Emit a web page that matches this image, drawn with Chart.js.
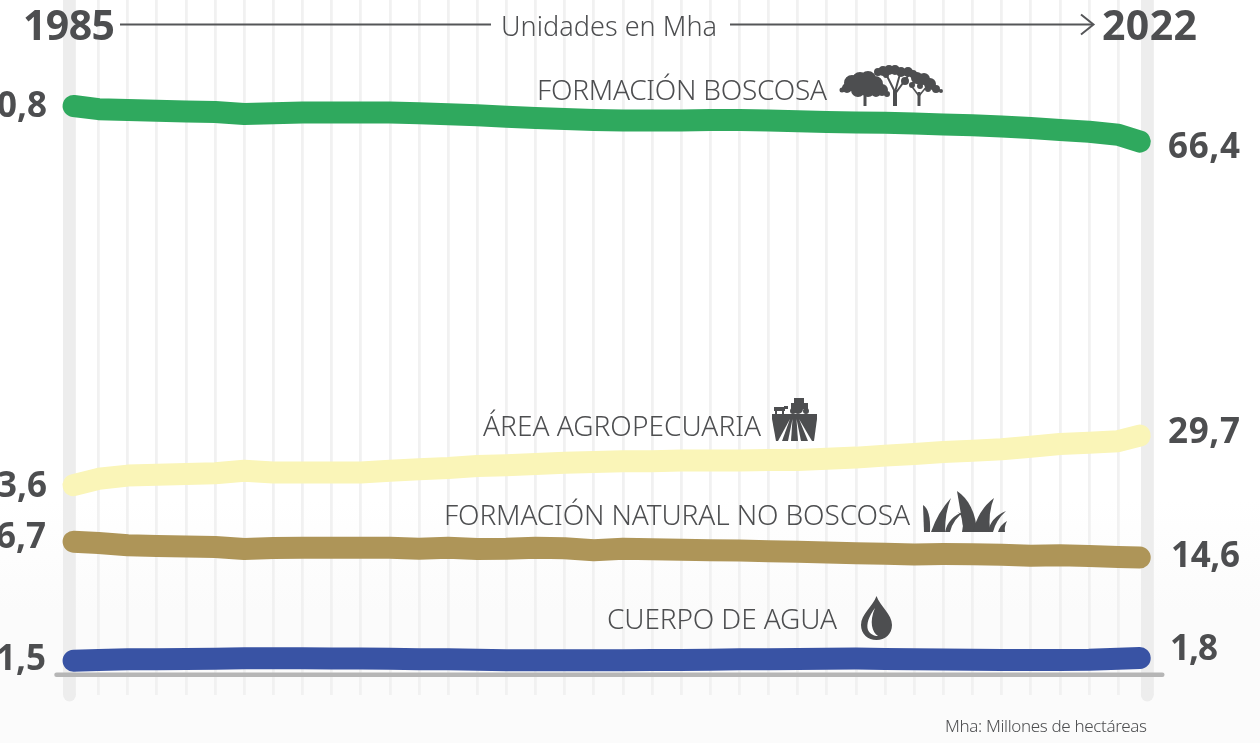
<!DOCTYPE html>
<html>
<head>
<meta charset="utf-8">
<style>
	html, body { margin: 0; padding: 0; }
	body { width: 1260px; height: 743px; overflow: hidden; background: linear-gradient(#fff 0, #fff 500px, #fbfbfb 610px, #fbfbfb 100%); }
	canvas { display: block; }
</style>
<script src="https://cdn.jsdelivr.net/npm/chart.js@4/dist/chart.umd.js"></script>
</head>
<body>
<canvas id="chart" width="1260" height="743"></canvas>
<script>
const years = [1985, 1986, 1987, 1988, 1989, 1990, 1991, 1992, 1993, 1994, 1995, 1996, 1997, 1998, 1999, 2000, 2001, 2002, 2003, 2004, 2005, 2006, 2007, 2008, 2009, 2010, 2011, 2012, 2013, 2014, 2015, 2016, 2017, 2018, 2019, 2020, 2021, 2022]

const boscosa = [70.8, 70.4, 70.3, 70.2, 70.1, 70.05, 69.8, 69.9, 70, 70, 70, 70, 69.9, 69.78, 69.64, 69.45, 69.3, 69.18, 69.05, 69, 69, 69, 69.05, 69.05, 69, 68.9, 68.8, 68.75, 68.7, 68.6, 68.5, 68.4, 68.25, 68.05, 67.8, 67.58, 67.2, 66.35]
const agropecuaria = [23.4, 24.2, 24.6, 24.7, 24.8, 24.9, 25.2, 25, 25, 25, 25, 25.2, 25.4, 25.55, 25.8, 25.9, 26.05, 26.2, 26.3, 26.4, 26.4, 26.5, 26.5, 26.5, 26.55, 26.55, 26.7, 26.85, 27.1, 27.3, 27.55, 27.7, 27.9, 28.2, 28.55, 28.7, 28.9, 29.6]
const natural = [16.34, 16.18, 15.89, 15.8, 15.74, 15.68, 15.43, 15.55, 15.58, 15.58, 15.58, 15.58, 15.46, 15.58, 15.43, 15.46, 15.59, 15.53, 15.28, 15.46, 15.39, 15.33, 15.26, 15.24, 15.14, 15.09, 14.99, 14.89, 14.84, 14.74, 14.8, 14.78, 14.7, 14.58, 14.64, 14.55, 14.43, 14.36]
const agua = [1.46, 1.55, 1.64, 1.65, 1.68, 1.71, 1.76, 1.76, 1.76, 1.74, 1.74, 1.71, 1.65, 1.64, 1.58, 1.52, 1.52, 1.52, 1.52, 1.52, 1.55, 1.55, 1.58, 1.63, 1.65, 1.68, 1.7, 1.73, 1.68, 1.65, 1.61, 1.59, 1.56, 1.55, 1.55, 1.58, 1.71, 1.8]

const startLabels = ['70,8', '23,6', '16,7', '1,5']
const endLabels = ['66,4', '29,7', '14,6', '1,8']
const seriesNames = ['FORMACIÓN BOSCOSA', 'ÁREA AGROPECUARIA', 'FORMACIÓN NATURAL NO BOSCOSA', 'CUERPO DE AGUA']
const seriesData = [boscosa, agropecuaria, natural, agua]
const seriesColors = ['#2fa95e', '#faf5b8', '#ae9558', '#3953a4']

const ink = '#4d4e50'
const bold = '"Noto Sans", sans-serif'
const light = '"Noto Sans", sans-serif'

// the strokes stop just inside the two end columns
const lineYears = years.map((year) => (year === 1985 ? 1985.14 : year === 2022 ? 2021.74 : year))

// text fitted between two x positions, the original font is not installed
function fitText(ctx, text, left, right, baseline, font) {
	ctx.save()
	ctx.font = font
	ctx.textAlign = 'left'
	ctx.textBaseline = 'alphabetic'
	ctx.letterSpacing = '0px'
	const width = ctx.measureText(text).width
	ctx.letterSpacing = ((right - left - width) / (text.length - 1)) + 'px'
	ctx.fillStyle = ink
	ctx.fillText(text, left, baseline)
	ctx.restore()
}

function blobs(ctx, list) {
	ctx.beginPath()
	list.forEach(([x, y, r]) => {
		ctx.moveTo(x + r, y)
		ctx.arc(x, y, r, 0, Math.PI * 2)
	})
	ctx.fill()
}

function stroke(ctx, width, points) {
	ctx.lineWidth = width
	ctx.beginPath()
	points.forEach(([x, y], i) => (i ? ctx.lineTo(x, y) : ctx.moveTo(x, y)))
	ctx.stroke()
}

function polygon(ctx, points) {
	ctx.beginPath()
	points.forEach(([x, y], i) => (i ? ctx.lineTo(x, y) : ctx.moveTo(x, y)))
	ctx.closePath()
	ctx.fill()
}

function drawTrees(ctx) {
	blobs(ctx, [[842, 90, 2.5], [847, 88, 5], [852, 83, 8], [860, 80, 8], [868, 79, 8], [875, 84, 8], [882, 90, 6], [887, 94, 3], [858, 90, 7], [868, 90, 7], [876, 92, 5],
		[878, 72, 4], [883, 71, 5], [889, 70, 5], [895, 70, 5], [901, 72, 5], [908, 72, 5], [886, 75, 3],
		[913, 74, 4], [917, 78, 6], [924, 79, 6], [930, 84, 6], [936, 89, 4], [941, 91, 2], [905, 81, 4], [912, 85, 3], [920, 86, 3], [928, 89, 3]])
	stroke(ctx, 3, [[865, 92], [865, 106]])
	stroke(ctx, 4, [[895, 90], [895, 106]])
	stroke(ctx, 2, [[895, 92], [886, 74]])
	stroke(ctx, 2, [[895, 92], [900, 74]])
	stroke(ctx, 2, [[895, 94], [908, 76]])
	stroke(ctx, 3, [[919, 92], [919, 106]])
	stroke(ctx, 1.5, [[919, 96], [910, 84]])
	stroke(ctx, 1.5, [[919, 96], [927, 86]])
}

function drawField(ctx, gap) {
	polygon(ctx, [[772, 414], [817, 414], [817, 419], [814, 441], [776, 441], [772, 419]])
	// furrows opening toward the viewer
	ctx.fillStyle = gap
	;[[790, 419, 778, 441, 782, 441], [792.5, 419, 788, 441, 791, 441], [796.5, 419, 798, 441, 801, 441], [799, 419, 808, 441, 812, 441]].forEach((f) => {
		polygon(ctx, [[f[0], f[1]], [f[2], f[3]], [f[4], f[5]]])
	})
	ctx.fillStyle = ink
	ctx.fillRect(774, 407, 11, 4)
	ctx.fillRect(775, 410, 2, 4)
	ctx.fillRect(782, 410, 2, 4)
	ctx.fillRect(784, 406, 4, 3)
	ctx.fillRect(791, 403, 17, 6)
	ctx.fillRect(794, 398, 10, 6)
	blobs(ctx, [[793, 411, 3], [798, 409, 5], [806, 411, 3]])
}

function drawGrass(ctx) {
	const blades = [[923, 505, 931, 510, 930, 532, 924, 532], [931, 532, 938, 512, 951, 498, 945, 512, 945, 532],
		[945, 532, 948, 517, 965, 511, 953, 519, 950, 532], [957, 491, 975, 503, 977, 532, 964, 532], [962, 532, 965, 518, 958, 512, 972, 520, 975, 532],
		[973, 532, 978, 510, 994, 498, 988, 512, 990, 532], [988, 532, 990, 518, 1006, 511, 996, 520, 993, 532], [998, 532, 1000, 525, 1007, 521, 1004, 527, 1005, 532]]
	blades.forEach((b) => {
		ctx.beginPath()
		ctx.moveTo(b[0], b[1])
		ctx.quadraticCurveTo(b[2], b[3], b[4], b[5])
		if (b.length === 8) {
			ctx.lineTo(b[6], b[7])
		} else {
			ctx.quadraticCurveTo(b[6], b[7], b[8], b[9])
		}
		ctx.closePath()
		ctx.fill()
	})
}

function drawDrop(ctx) {
	ctx.beginPath()
	ctx.moveTo(876.5, 596)
	ctx.bezierCurveTo(880, 606, 892, 614, 892, 625)
	ctx.bezierCurveTo(892, 634, 885, 640, 876.5, 640)
	ctx.bezierCurveTo(868, 640, 861, 634, 861, 625)
	ctx.bezierCurveTo(861, 614, 873, 606, 876.5, 596)
	ctx.fill()
	ctx.fillStyle = '#fff'
	ctx.beginPath()
	ctx.moveTo(875, 608)
	ctx.bezierCurveTo(869, 616, 866, 624, 868, 630)
	ctx.bezierCurveTo(870, 634, 874, 636, 878, 636)
	ctx.bezierCurveTo(872, 632, 869, 622, 875, 608)
	ctx.fill()
	ctx.fillStyle = ink
}

const decorations = {
	id: 'decorations',
	beforeDatasetsDraw(chart) {
		const { ctx, scales: { x, y }, chartArea } = chart
		ctx.save()
		ctx.lineCap = 'round'
		// round feet of the two end columns
		ctx.fillStyle = '#ededed'
		;[years[0], years[years.length - 1]].forEach((year) => {
			ctx.beginPath()
			ctx.arc(x.getPixelForValue(year), chartArea.bottom, 6.4, 0, Math.PI * 2)
			ctx.fill()
		})
		// baseline
		ctx.strokeStyle = '#b6b6b6'
		ctx.lineWidth = 4.5
		ctx.beginPath()
		ctx.moveTo(x.getPixelForValue(1985) - 13, y.getPixelForValue(-0.29))
		ctx.lineTo(x.getPixelForValue(2022) + 15, y.getPixelForValue(-0.29))
		ctx.stroke()
		ctx.restore()
	},
	afterDraw(chart) {
		const { ctx } = chart
		ctx.save()

		// header
		fitText(ctx, '1985', 23, 115, 40, `700 41px ${bold}`)
		fitText(ctx, '2022', 1102, 1197, 40, `700 41px ${bold}`)
		fitText(ctx, 'Unidades en Mha', 501, 717, 36, `300 27px ${light}`)
		ctx.strokeStyle = '#555658'
		ctx.lineCap = 'butt'
		stroke(ctx, 2, [[120, 24.5], [491, 24.5]])
		stroke(ctx, 2, [[730, 24.5], [1093, 24.5]])
		stroke(ctx, 2, [[1081, 14.5], [1093.5, 24.5], [1081, 34.5]])

		// values at both ends of each series
		const startRight = [47, 47, 46, 46]
		const startBase = [117, 497, 548, 670]
		const endLeft = [1168, 1168, 1171, 1170]
		const endRight = [1240, 1240, 1240, 1218]
		const endBase = [158, 443, 567, 660]
		const valueFont = `700 35px ${bold}`
		startLabels.forEach((label, i) => {
			ctx.font = valueFont
			ctx.fillStyle = ink
			ctx.textAlign = 'right'
			ctx.textBaseline = 'alphabetic'
			ctx.fillText(label, startRight[i], startBase[i])
		})
		endLabels.forEach((label, i) => fitText(ctx, label, endLeft[i], endRight[i], endBase[i], valueFont))

		// series names
		const nameLeft = [537, 483, 444, 607]
		const nameRight = [827, 761, 910, 837]
		const nameBase = [100, 436, 525, 629]
		seriesNames.forEach((name, i) => fitText(ctx, name, nameLeft[i], nameRight[i], nameBase[i], `300 28px ${light}`))
		fitText(ctx, 'Mha: Millones de hectáreas', 945, 1147, 732, `300 17px ${light}`)

		// icons
		ctx.fillStyle = ink
		ctx.strokeStyle = ink
		ctx.lineCap = 'butt'
		drawTrees(ctx)
		drawField(ctx, '#fff')
		drawGrass(ctx)
		drawDrop(ctx)
		ctx.restore()
	},
}

new Chart(document.getElementById('chart'), {
	type: 'line',
	data: {
		datasets: seriesData.map((values, i) => ({
			label: seriesNames[i],
			data: values.map((value, k) => ({ x: lineYears[k], y: value })),
			borderColor: seriesColors[i],
			borderWidth: 22,
			borderCapStyle: 'round',
			borderJoinStyle: 'round',
			pointRadius: 0,
			tension: 0,
		})),
	},
	options: {
		responsive: false,
		animation: false,
		layout: { padding: { left: 0, right: 0, top: 0, bottom: 48 } },
		plugins: {
			legend: { display: false },
			tooltip: { enabled: false },
		},
		scales: {
			x: {
				type: 'linear',
				min: 1982.614,
				max: 2025.869,
				afterBuildTicks(axis) {
					axis.ticks = years.map((value) => ({ value }))
				},
				ticks: { display: false, autoSkip: false },
				border: { display: false },
				grid: {
					drawTicks: false,
					color: (c) => (c.tick.value === 1985 || c.tick.value === 2022 ? '#ededed' : '#f1f1f1'),
					lineWidth: (c) => (c.tick.value === 1985 || c.tick.value === 2022 ? 12.8 : 2.8),
				},
			},
			y: {
				display: false,
				min: -2.825,
				max: 84.05,
			},
		},
	},
	plugins: [decorations],
})
</script>
</body>
</html>
